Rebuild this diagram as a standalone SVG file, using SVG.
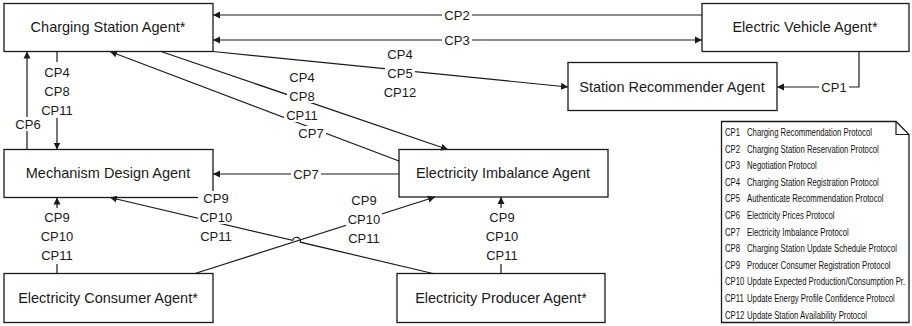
<svg xmlns="http://www.w3.org/2000/svg" width="912" height="326" viewBox="0 0 912 326">
<style>
.box{fill:#fff;stroke:#1a1a1a;stroke-width:1.3}
.bt{font-family:"Liberation Sans",Arial,sans-serif;font-size:14.5px;fill:#1a1a1a;text-anchor:middle}
.ln{fill:none;stroke:#1a1a1a;stroke-width:1.2}
.lb{font-family:"Liberation Sans",Arial,sans-serif;font-size:13px;fill:#1a1a1a;text-anchor:middle}
.bg{fill:#fff}
.lg{font-family:"Liberation Sans",Arial,sans-serif;font-size:11.5px;fill:#111}
</style>
<defs>
<marker id="ah" markerUnits="userSpaceOnUse" markerWidth="8" markerHeight="8" refX="7" refY="3.5" orient="auto-start-reverse" viewBox="0 0 8 7">
<path d="M0,0 L7,3.5 L0,7 z" fill="#1a1a1a"/>
</marker>
</defs>
<g id="csa"><rect class="box" x="4" y="3.5" width="209" height="48"/><text class="bt" x="108" y="32">Charging Station Agent*</text></g>
<g id="eva"><rect class="box" x="702" y="3.5" width="207" height="48"/><text class="bt" x="805" y="32">Electric Vehicle Agent*</text></g>
<g id="sra"><rect class="box" x="568" y="62.5" width="209" height="48"/><text class="bt" x="672" y="92">Station Recommender Agent</text></g>
<g id="mda"><rect class="box" x="4" y="149.5" width="209" height="48"/><text class="bt" x="108" y="178">Mechanism Design Agent</text></g>
<g id="eia"><rect class="box" x="399" y="149.5" width="209" height="47.5"/><text class="bt" x="503" y="178">Electricity Imbalance Agent</text></g>
<g id="eca"><rect class="box" x="4" y="273.5" width="209" height="49"/><text class="bt" x="108" y="303">Electricity Consumer Agent*</text></g>
<g id="epa"><rect class="box" x="397" y="273.5" width="208" height="49"/><text class="bt" x="501" y="303">Electricity Producer Agent*</text></g>
<g id="connectors">
<path class="ln" d="M702,15 H213" marker-end="url(#ah)"/>
<path class="ln" d="M213,40 H702" marker-start="url(#ah)" marker-end="url(#ah)"/>
<path class="ln" d="M859,51.5 V87 H777" marker-end="url(#ah)"/>
<path class="ln" d="M213,51.5 L568,87" marker-end="url(#ah)"/>
<path class="ln" d="M57,51.5 V149.5" marker-end="url(#ah)"/>
<path class="ln" d="M27,149.5 V51.5" marker-end="url(#ah)"/>
<path class="ln" d="M161,51.5 L448,149.5" marker-end="url(#ah)"/>
<path class="ln" d="M399,161 L110,51.5" marker-end="url(#ah)"/>
<path class="ln" d="M399,174 H213" marker-end="url(#ah)"/>
<path class="ln" d="M57,273.5 V197.5" marker-end="url(#ah)"/>
<path class="ln" d="M501,273.5 V197" marker-end="url(#ah)"/>
<path class="ln" d="M195,273.5 L435,197" marker-end="url(#ah)"/>
<path class="ln" d="M433,273.5 L300.4,242.2 A4,4 0 0 0 292.6,240.4 L110,197.5" marker-end="url(#ah)"/>
</g>
<g id="labels">
<rect class="bg" x="442" y="8" width="30" height="14"/><text class="lb" x="457" y="19.5">CP2</text>
<rect class="bg" x="442" y="33" width="30" height="14"/><text class="lb" x="457" y="44.5">CP3</text>
<rect class="bg" x="819" y="80" width="30" height="14"/><text class="lb" x="834" y="91.5">CP1</text>
<rect class="bg" x="385" y="47" width="30" height="14"/><text class="lb" x="400" y="58.5">CP4</text>
<rect class="bg" x="385" y="66" width="30" height="14"/><text class="lb" x="400" y="77.5">CP5</text>
<rect class="bg" x="382" y="85" width="36" height="14"/><text class="lb" x="400" y="96.5">CP12</text>
<rect class="bg" x="39" y="62" width="36" height="56"/>
<text class="lb" x="57" y="76.5">CP4</text><text class="lb" x="57" y="95.5">CP8</text><text class="lb" x="57" y="114.5">CP11</text>
<rect class="bg" x="13" y="117" width="30" height="14"/><text class="lb" x="28" y="128.5">CP6</text>
<rect class="bg" x="287" y="70" width="30" height="14"/><text class="lb" x="302" y="81.5">CP4</text>
<rect class="bg" x="287" y="89" width="30" height="14"/><text class="lb" x="302" y="100.5">CP8</text>
<rect class="bg" x="284" y="108" width="36" height="14"/><text class="lb" x="302" y="119.5">CP11</text>
<rect class="bg" x="296" y="126" width="30" height="14"/><text class="lb" x="311" y="137.5">CP7</text>
<rect class="bg" x="291" y="167" width="30" height="14"/><text class="lb" x="306" y="178.5">CP7</text>
<rect class="bg" x="198" y="191" width="36" height="14"/><text class="lb" x="216" y="202.5">CP9</text>
<rect class="bg" x="198" y="210" width="36" height="14"/><text class="lb" x="216" y="221.5">CP10</text>
<rect class="bg" x="198" y="229" width="36" height="14"/><text class="lb" x="216" y="240.5">CP11</text>
<rect class="bg" x="346" y="193" width="36" height="14"/><text class="lb" x="364" y="204.5">CP9</text>
<rect class="bg" x="346" y="212" width="36" height="14"/><text class="lb" x="364" y="223.5">CP10</text>
<rect class="bg" x="346" y="231" width="36" height="14"/><text class="lb" x="364" y="242.5">CP11</text>
<rect class="bg" x="39" y="208" width="36" height="56"/>
<text class="lb" x="57" y="221.5">CP9</text><text class="lb" x="57" y="240.5">CP10</text><text class="lb" x="57" y="259.5">CP11</text>
<rect class="bg" x="484" y="208" width="36" height="56"/>
<text class="lb" x="502" y="221.5">CP9</text><text class="lb" x="502" y="240.5">CP10</text><text class="lb" x="502" y="259.5">CP11</text>
</g>
<g id="legend">
<path class="box" d="M721.5,121.5 H896 L909,134.5 V322.5 H721.5 Z"/>
<path class="ln" d="M896,121.5 V134.5 H909"/>
<g class="lg" transform="translate(725,0) scale(0.675,1)">
<text y="136"><tspan x="0">CP1</tspan><tspan x="32.6">Charging Recommendation Protocol</tspan></text>
<text y="152.6"><tspan x="0">CP2</tspan><tspan x="32.6">Charging Station Reservation Protocol</tspan></text>
<text y="169.2"><tspan x="0">CP3</tspan><tspan x="32.6">Negotiation Protocol</tspan></text>
<text y="185.8"><tspan x="0">CP4</tspan><tspan x="32.6">Charging Station Registration Protocol</tspan></text>
<text y="202.4"><tspan x="0">CP5</tspan><tspan x="32.6">Authenticate Recommendation Protocol</tspan></text>
<text y="219"><tspan x="0">CP6</tspan><tspan x="32.6">Electricity Prices Protocol</tspan></text>
<text y="235.6"><tspan x="0">CP7</tspan><tspan x="32.6">Electricity Imbalance Protocol</tspan></text>
<text y="252.2"><tspan x="0">CP8</tspan><tspan x="32.6">Charging Station Update Schedule Protocol</tspan></text>
<text y="268.8"><tspan x="0">CP9</tspan><tspan x="32.6">Producer Consumer Registration Protocol</tspan></text>
<text y="285.4"><tspan x="0">CP10</tspan><tspan x="32.6">Update Expected Production/Consumption Pr.</tspan></text>
<text y="302"><tspan x="0">CP11</tspan><tspan x="32.6">Update Energy Profile Confidence Protocol</tspan></text>
<text y="318.6"><tspan x="0">CP12</tspan><tspan x="32.6">Update Station Availability Protocol</tspan></text>
</g>
</g>
</svg>
